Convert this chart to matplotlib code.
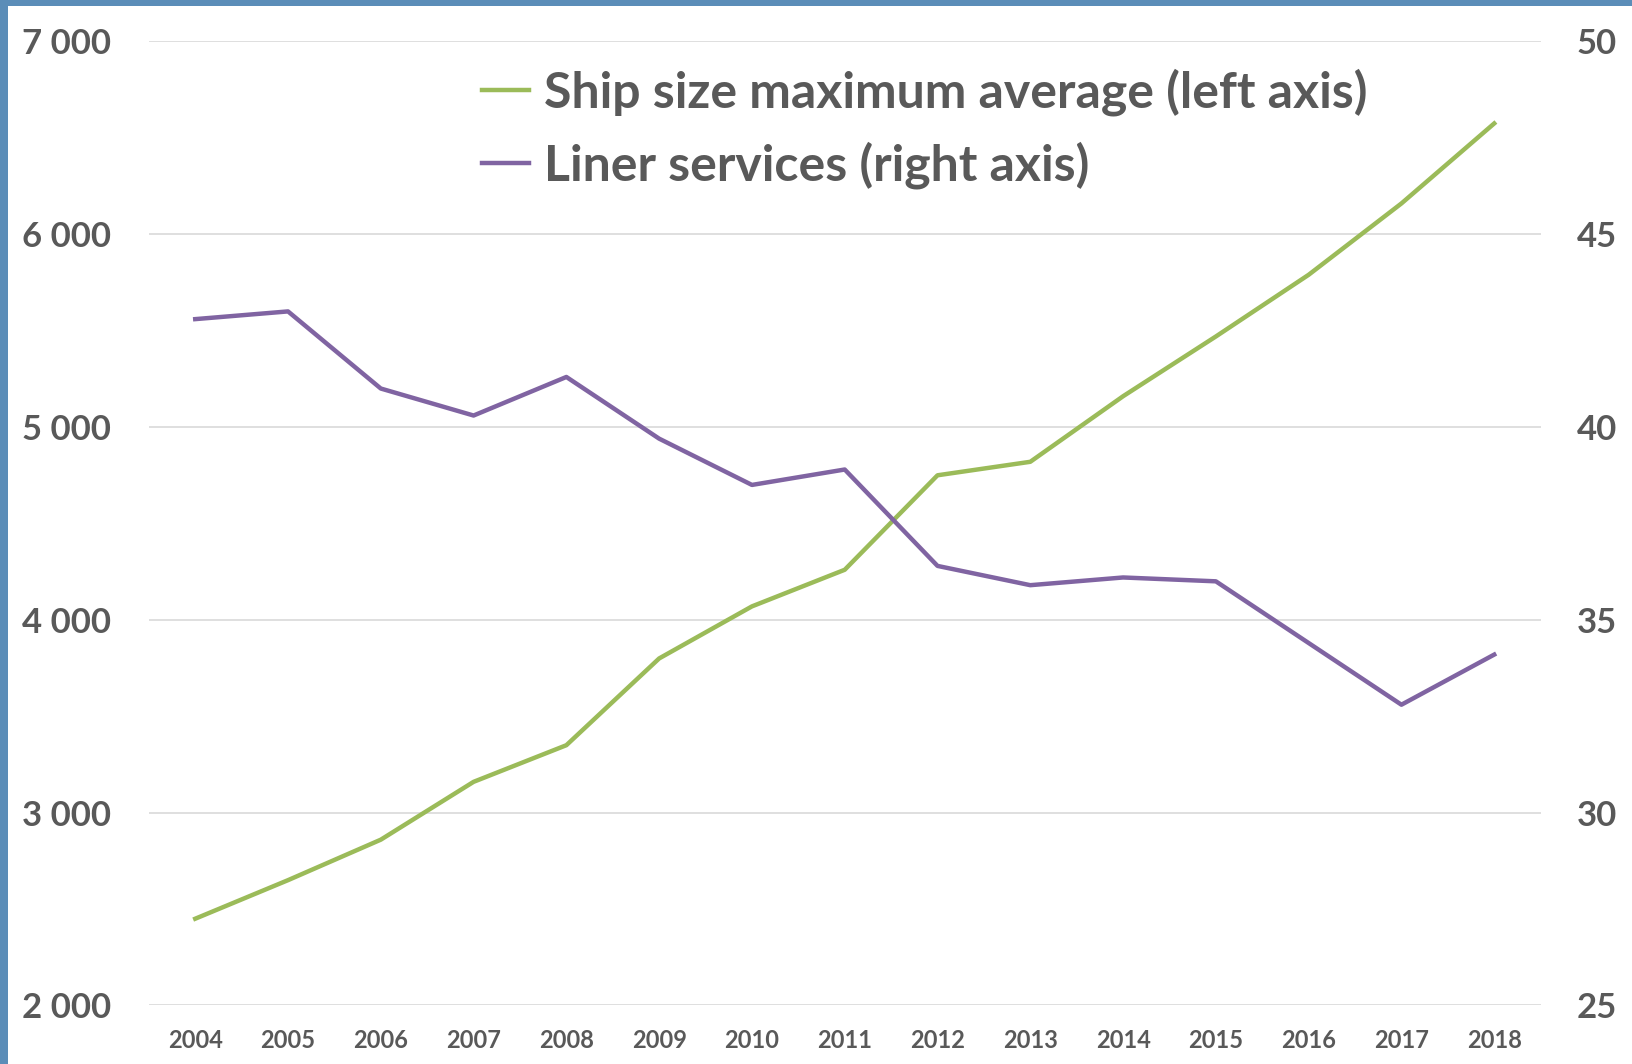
"""Ship size vs. number of liner services, 2004-2018 (two y axes)."""
import matplotlib.pyplot as plt
from matplotlib.patches import Rectangle

years = ["2004", "2005", "2006", "2007", "2008", "2009", "2010", "2011",
         "2012", "2013", "2014", "2015", "2016", "2017", "2018"]
ship_size_max_avg = [2450, 2650, 2860, 3160, 3350, 3800, 4070, 4260,
                     4750, 4820, 5160, 5470, 5790, 6160, 6575]
liner_services = [42.8, 43.0, 41.0, 40.3, 41.3, 39.7, 38.5, 38.9,
                  36.4, 35.9, 36.1, 36.0, 34.4, 32.8, 34.1]
left_ticks = [2000, 3000, 4000, 5000, 6000, 7000]
right_ticks = [25, 30, 35, 40, 45, 50]

GREEN = "#9BBB59"
PURPLE = "#8064A2"
TEXT = "#595959"
GRID = "#D9D9D9"
BORDER = "#5B8DB8"

plt.rcParams["font.family"] = ["Lato", "DejaVu Sans"]

fig = plt.figure(figsize=(16.32, 10.64), dpi=100)
fig.patch.set_facecolor(BORDER)
fig.patches.append(Rectangle((0.005, 0), 0.995, 0.9945, transform=fig.transFigure,
                             facecolor="white", edgecolor="none", zorder=-1))

ax = fig.add_axes([0.0912, 0.055, 0.8528, 0.906])
ax.set_facecolor("none")
ax2 = ax.twinx()

x = list(range(len(years)))
l1, = ax.plot(x, ship_size_max_avg, color=GREEN, linewidth=3.2,
              label="Ship size maximum average (left axis)")
l2, = ax2.plot(x, liner_services, color=PURPLE, linewidth=3.2,
               label="Liner services (right axis)")

ax.set_xlim(-0.5, len(years) - 0.5)
ax.set_ylim(2000, 7000)
ax2.set_ylim(25, 50)
ax.set_xticks(x)
ax.set_xticklabels(years)
ax.set_yticks(left_ticks)
ax.set_yticklabels([f"{v:,}".replace(",", " ") for v in left_ticks])
ax2.set_yticks(right_ticks)
ax2.set_yticklabels([str(v) for v in right_ticks])

ax.grid(axis="y", color=GRID, linewidth=1.2)
ax.set_axisbelow(True)
for a in (ax, ax2):
    for s in a.spines.values():
        s.set_visible(False)
ax.tick_params(axis="y", length=0, pad=27, labelsize=25, labelcolor=TEXT)
ax.tick_params(axis="x", length=0, pad=17, labelsize=17, labelcolor=TEXT)
ax2.tick_params(axis="y", length=0, pad=26, labelsize=25, labelcolor=TEXT)
for lab in ax.get_yticklabels() + ax.get_xticklabels() + ax2.get_yticklabels():
    lab.set_fontweight("bold")

leg = ax.legend(handles=[l1, l2], loc="center left", bbox_to_anchor=(0.28, 0.879),
                bbox_transform=fig.transFigure, frameon=False, fontsize=36,
                borderpad=0, handlelength=0.95, handletextpad=0.3, labelspacing=0.5)
for t in leg.get_texts():
    t.set_color(TEXT)
    t.set_fontweight("bold")

fig.savefig("out.png", dpi=100, facecolor=fig.get_facecolor())
